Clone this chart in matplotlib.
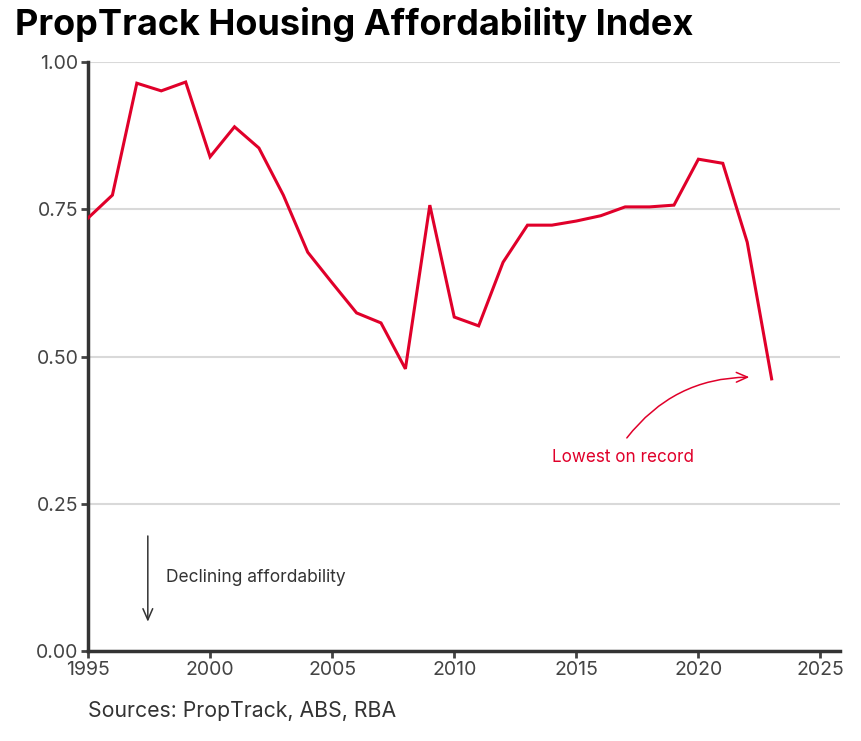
import numpy as np
import matplotlib.pyplot as plt
from matplotlib.ticker import FixedLocator, FormatStrFormatter

# ---- data ----
years = list(range(1995, 2024))
index = [0.735, 0.774, 0.964, 0.951, 0.966, 0.839, 0.890, 0.854, 0.774, 0.677,
         0.625, 0.574, 0.557, 0.479, 0.757, 0.567, 0.552, 0.660, 0.723, 0.723,
         0.730, 0.739, 0.754, 0.754, 0.757, 0.835, 0.828, 0.694, 0.462]
x_ticks = [1995, 2000, 2005, 2010, 2015, 2020, 2025]
y_ticks = [0.00, 0.25, 0.50, 0.75, 1.00]

RED = "#E0002A"
DARK = "#333333"
plt.rcParams['font.family'] = ['Inter', 'DejaVu Sans']

fig = plt.figure(figsize=(8.62, 7.41), dpi=100)
ax = fig.add_axes([88/862, 1 - 651/741, (840-88)/862, (651-62)/741])

ax.plot(years, index, color=RED, lw=2.2, solid_joinstyle='miter', zorder=3)

ax.set_xlim(1995, 2025.8)
ax.set_ylim(0, 1.0)
ax.xaxis.set_major_locator(FixedLocator(x_ticks))
ax.yaxis.set_major_locator(FixedLocator(y_ticks))
ax.yaxis.set_major_formatter(FormatStrFormatter('%.2f'))
ax.grid(axis='y', color='#d9d9d9', lw=1.5, zorder=0)
ax.set_axisbelow(True)

for s in ['top', 'right']:
    ax.spines[s].set_visible(False)
for s in ['left', 'bottom']:
    ax.spines[s].set_color(DARK)
    ax.spines[s].set_linewidth(2.5)
ax.tick_params(colors='#444444', labelsize=14, width=2, length=5, direction='out', pad=2)

# annotations
ax.annotate('', xy=(2022.2, 0.465), xytext=(2017.0, 0.358),
            arrowprops=dict(arrowstyle='->,head_length=0.8,head_width=0.35', color=RED, lw=1.1,
                            connectionstyle='arc3,rad=-0.25'))
ax.text(2014.0, 0.328, 'Lowest on record', color=RED, fontsize=12.3, va='center', ha='left')

ax.annotate('', xy=(1997.45, 0.045), xytext=(1997.45, 0.2),
            arrowprops=dict(arrowstyle='->,head_length=0.8,head_width=0.35', color=DARK, lw=1.1))
ax.text(1998.2, 0.125, 'Declining affordability', color=DARK, fontsize=12.5, va='center', ha='left')

fig.text(15/862, 1 - 25/741, 'PropTrack Housing Affordability Index', fontsize=26,
         fontweight='bold', va='center', ha='left', color='black')
fig.text(88/862, 1 - 711/741, 'Sources: PropTrack, ABS, RBA', fontsize=15.3,
         va='center', ha='left', color='#333333')

fig.savefig('out.png', dpi=100)
